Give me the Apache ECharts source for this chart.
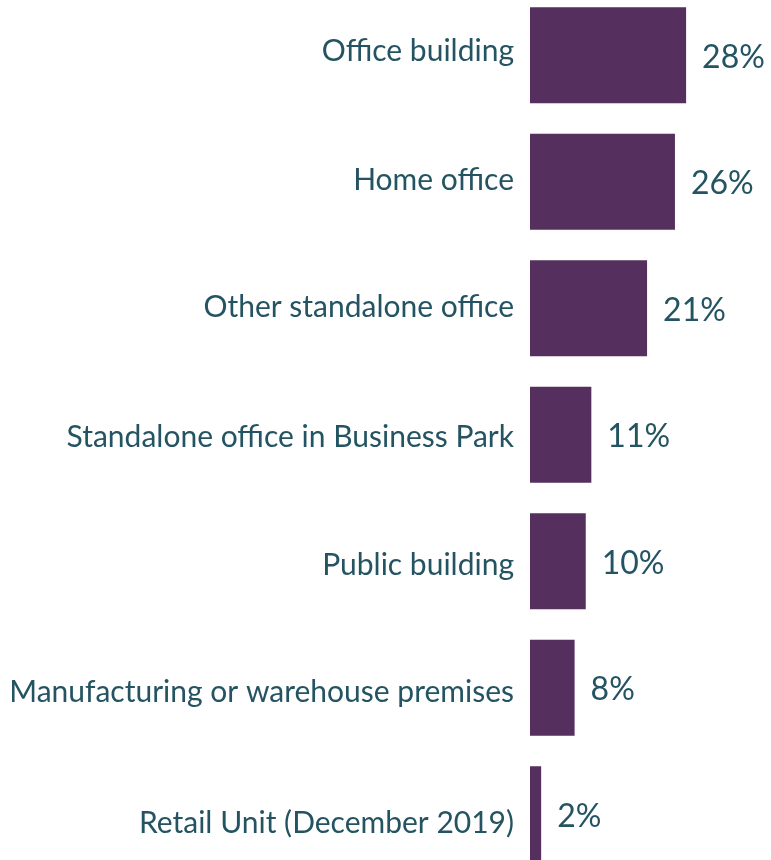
<!DOCTYPE html>
<html>
<head>
<meta charset="utf-8">
<script src="https://cdn.jsdelivr.net/npm/echarts@6/dist/echarts.min.js"></script>
<style>
  html, body { margin: 0; padding: 0; background: #ffffff; }
  #chart { width: 771px; height: 860px; }
</style>
</head>
<body>
<div id="chart"></div>
<script>
// Workplace types, share of respondents (%)
const categories = [
  'Office building',
  'Home office',
  'Other standalone office',
  'Standalone office in Business Park',
  'Public building',
  'Manufacturing or warehouse premises',
  'Retail Unit (December 2019)'
];
const shares = [28, 26, 21, 11, 10, 8, 2];

const textColor = '#245462';
const barColor = '#552F5E';
const fontFamily = 'Lato, "Open Sans", sans-serif';

// Vertical nudge (px) of each category label relative to its bar centre
const labelNudge = [-4, -1, -1, 3, 4, 5, 9];

const richStyles = {};
labelNudge.forEach((d, i) => {
  richStyles['n' + i] = {
    color: textColor,
    fontFamily: fontFamily,
    fontSize: 30,
    padding: d >= 0 ? [2 * d, 0, 0, 0] : [0, 0, -2 * d, 0]
  };
});

const chart = echarts.init(document.getElementById('chart'), null, { renderer: 'canvas' });

chart.setOption({
  animation: false,
  backgroundColor: '#ffffff',
  grid: {
    left: 530,
    right: 18,
    top: -8,
    bottom: -17.5,
    containLabel: false,
    outerBoundsMode: 'none'
  },
  xAxis: {
    type: 'value',
    min: 0,
    max: 40,
    show: false
  },
  yAxis: {
    type: 'category',
    data: categories,
    inverse: true,
    axisLine: { show: false },
    axisTick: { show: false },
    splitLine: { show: false },
    axisLabel: {
      color: textColor,
      fontFamily: fontFamily,
      fontSize: 30,
      margin: 16,
      formatter: (value, index) => '{n' + index + '|' + value + '}',
      rich: richStyles
    }
  },
  series: [{
    type: 'bar',
    data: shares,
    barWidth: 96,
    itemStyle: { color: barColor },
    label: {
      show: true,
      position: 'right',
      distance: 16,
      formatter: '{c}%',
      color: textColor,
      fontFamily: fontFamily,
      fontSize: 32,
      offset: [0, 2]
    }
  }]
});
</script>
</body>
</html>
